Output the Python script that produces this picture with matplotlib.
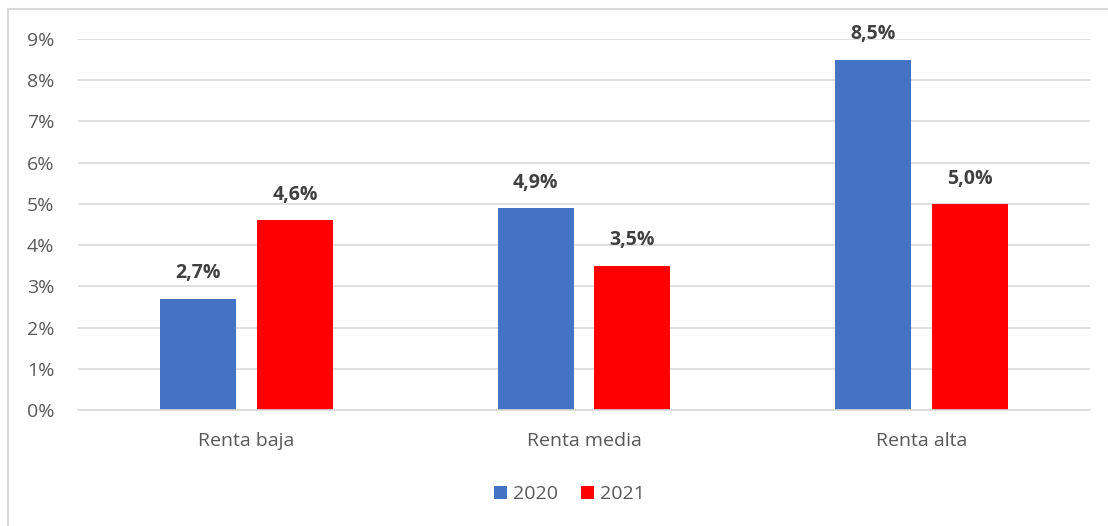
import matplotlib.pyplot as plt
from matplotlib.lines import Line2D
import numpy as np

categories = ["Renta baja", "Renta media", "Renta alta"]
values_2020 = [2.7, 4.9, 8.5]
values_2021 = [4.6, 3.5, 5.0]
series_names = ["2020", "2021"]
colors = ["#4472C4", "#FF0000"]
yticks = list(range(0, 10))

plt.rcParams["font.family"] = ["Open Sans", "DejaVu Sans"]

fig = plt.figure(figsize=(11.08, 5.26), dpi=100)
ax = fig.add_axes([0.0704, 0.2205, 0.9134, 0.7053])

x = np.arange(len(categories))
width = 0.225
offset = 0.143
bars = [
    ax.bar(x - offset, values_2020, width, color=colors[0], label=series_names[0]),
    ax.bar(x + offset, values_2021, width, color=colors[1], label=series_names[1]),
]

# data labels with decimal comma
for group in bars:
    for rect in group:
        h = rect.get_height()
        ax.annotate(f"{h:.1f}%".replace(".", ","),
                    (rect.get_x() + rect.get_width() / 2, h),
                    xytext=(0, 11), textcoords="offset points",
                    ha="center", va="bottom", fontsize=14,
                    fontweight="bold", color="#404040")

ax.set_xlim(-0.5, 2.5)
ax.set_ylim(0, 9)
ax.set_yticks(yticks)
ax.set_yticklabels([f"{t}%" for t in yticks])
ax.set_xticks(x)
ax.set_xticklabels(categories)
ax.tick_params(axis="both", length=0, labelsize=14, labelcolor="#595959")
ax.tick_params(axis="y", pad=17)
ax.tick_params(axis="x", pad=16)
ax.grid(axis="y", color="#D9D9D9", linewidth=1.2)
ax.set_axisbelow(True)
for side in ["top", "right", "left"]:
    ax.spines[side].set_visible(False)
ax.spines["bottom"].set_color("#D9D9D9")
ax.spines["bottom"].set_linewidth(1.2)

leg = fig.legend(loc="center", bbox_to_anchor=(0.514, 0.06), ncol=2,
                 frameon=False, fontsize=14, handlelength=0.65,
                 handleheight=0.65, handletextpad=0.3, columnspacing=1.2)
for t in leg.get_texts():
    t.set_color("#595959")

# outer chart frame (left and top edges visible)
fig.add_artist(Line2D([8 / 1108, 8 / 1108], [0, 1 - 9 / 526],
                      transform=fig.transFigure, color="#D9D9D9", linewidth=1.5))
fig.add_artist(Line2D([8 / 1108, 1], [1 - 9 / 526, 1 - 9 / 526],
                      transform=fig.transFigure, color="#D9D9D9", linewidth=1.5))

fig.savefig("out.png", dpi=100)
